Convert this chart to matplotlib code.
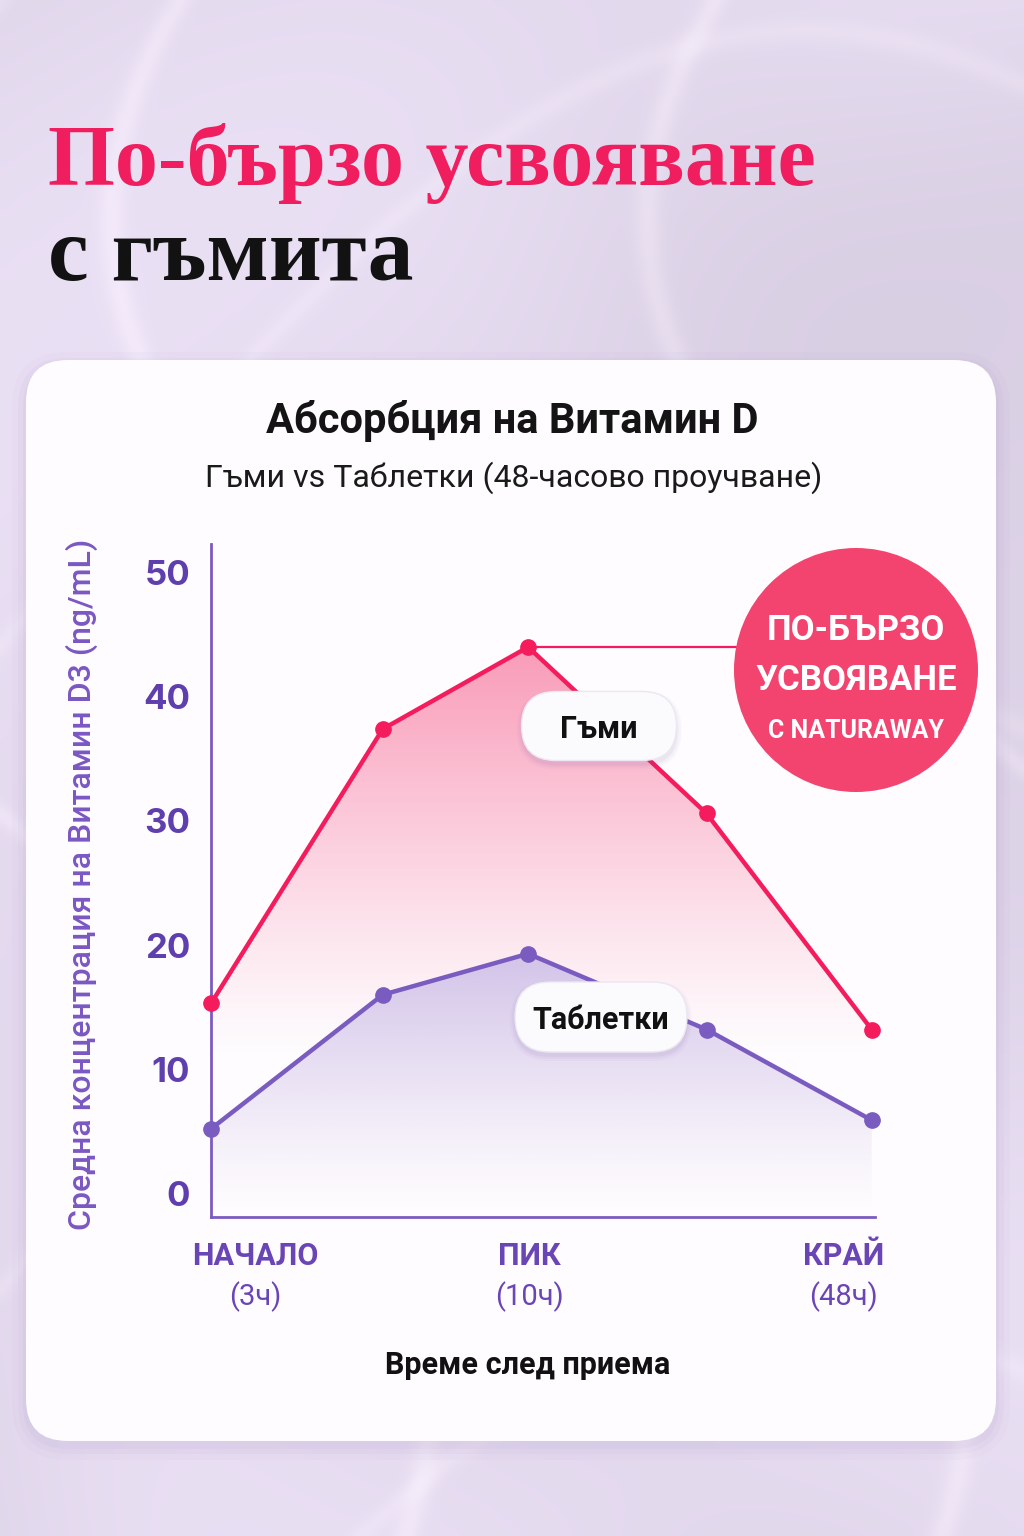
import numpy as np
import matplotlib
matplotlib.use('Agg')
import matplotlib.pyplot as plt
from matplotlib.patches import FancyBboxPatch, Circle

# --- data ---
time_pos = [0, 1.04, 1.92, 3.0, 4.0]
gummies = [15.3, 37.4, 44.0, 30.6, 13.2]
tablets = [5.2, 16.0, 19.3, 13.2, 5.9]
y_ticks = [0, 10, 20, 30, 40, 50]
x_label_pos = [0.27, 1.93, 3.83]
x_label_top = ['НАЧАЛО', 'ПИК', 'КРАЙ']
x_label_bottom = ['(3ч)', '(10ч)', '(48ч)']

PINK = '#f41c5c'
PURPLE = '#7a5bc0'
DARK_PURPLE = '#5f3fae'

plt.rcParams['font.family'] = ['Roboto', 'DejaVu Sans']

fig = plt.figure(figsize=(10.24, 15.36), dpi=100)

# background in pixel coordinates
bg = fig.add_axes([0, 0, 1, 1], zorder=0)
bg.set_xlim(0, 1024)
bg.set_ylim(1536, 0)
bg.axis('off')

# lavender marble texture
H, W = 384, 256
yy, xx = np.mgrid[0:H, 0:W] / 256.0
swirl = np.sin(2.6 * xx + 2.0 * np.sin(2.2 * yy) + 1.3 * np.sin(3.5 * xx * yy))
band = np.sin(4.5 * yy - 2.5 * xx + np.sin(5 * xx))
veins = np.exp(-np.sin(6 * xx + 2.5 * np.sin(2.7 * yy + 1.0)) ** 2 / 0.006)
veins2 = np.exp(-np.sin(5 * yy + 3 * np.sin(2 * xx)) ** 2 / 0.004)
base = np.array([0.885, 0.845, 0.925])
tex = base[None, None, :] + (0.02 * swirl + 0.012 * band)[..., None] \
    + (0.035 * veins + 0.022 * veins2)[..., None] * np.array([1.0, 1.1, 0.7])
tex = np.clip(tex, 0, 1)
bg.imshow(tex, extent=(0, 1024, 1536, 0), origin='upper', aspect='auto',
          interpolation='bicubic', zorder=0)

# headline
bg.text(48, 185, 'По-бързо усвояване', family='Liberation Serif',
        weight='bold', size=62, color='#f01e5e', va='baseline', zorder=2)
bg.text(48, 280, 'с гъмита', family='Liberation Serif',
        weight='bold', size=66, color='#121212', va='baseline', zorder=2)

# white card with soft shadow
for k, a in [(14, 0.03), (8, 0.04), (3, 0.05)]:
    bg.add_patch(FancyBboxPatch((26 - k, 362 - k + 4), 970 + 2 * k, 1080 + 2 * k,
                                boxstyle=f'round,pad=0,rounding_size={42 + k}',
                                fc='#8a70b0', ec='none', alpha=a, zorder=1))
bg.add_patch(FancyBboxPatch((26, 360), 970, 1081,
                            boxstyle='round,pad=0,rounding_size=42',
                            fc='#fefcfe', ec='none', zorder=2))

# card titles
bg.text(512, 421, 'Абсорбция на Витамин D', size=30, weight='bold',
        color='#141414', ha='center', va='center', zorder=3)
bg.text(514, 478, 'Гъми vs Таблетки (48-часово проучване)', size=23,
        color='#1a1a1a', ha='center', va='center', zorder=3)
bg.text(528, 1365, 'Време след приема', size=22, weight='bold',
        color='#111111', ha='center', va='center', zorder=3)
bg.text(82, 884, 'Средна концентрация на Витамин D3 (ng/mL)', size=23,
        weight='medium', color='#7b57c2', rotation=90, ha='center',
        va='center', zorder=3)

# chart axes
ax = fig.add_axes([211 / 1024, 1 - 1217 / 1536, 664 / 1024, 673 / 1536], zorder=2)
ax.patch.set_alpha(0)
YMIN, YMAX = -1.9, 52.3
XMAX = 4.02


def gradient_fill(x, y, rgb, a_top, y_top, y_zero, zorder, white_base=False):
    if white_base:
        ax.fill_between(x, y, YMIN, color='#fefcfe', lw=0, zorder=zorder - 0.1)
    poly = ax.fill_between(x, y, YMIN, color='none', lw=0)
    n = 256
    ys = np.linspace(YMIN, YMAX, n)
    alpha = np.clip((ys - y_zero) / (y_top - y_zero), 0, 1) ** 1.2 * a_top
    img = np.zeros((n, 2, 4))
    img[..., :3] = rgb
    img[..., 3] = alpha[:, None]
    im = ax.imshow(img, extent=(x[0], x[-1], YMIN, YMAX), origin='lower',
                   aspect='auto', zorder=zorder, interpolation='bilinear')
    im.set_clip_path(poly.get_paths()[0], transform=ax.transData)


gradient_fill(time_pos, gummies, (0.97, 0.42, 0.59), 0.72, 46, 11, 1)
gradient_fill(time_pos, tablets, (0.70, 0.60, 0.85), 0.6, 20, -1.5, 2,
              white_base=True)

peak = int(np.argmax(gummies))
ax.plot([time_pos[peak], time_pos[-1]], [gummies[peak], gummies[peak]],
        color=PINK, lw=1.6, clip_on=False, zorder=3)
ax.plot(time_pos, gummies, color=PINK, lw=3.2, marker='o', ms=11,
        clip_on=False, zorder=5)
ax.plot(time_pos, tablets, color=PURPLE, lw=3.2, marker='o', ms=11,
        clip_on=False, zorder=4)

ax.set_xlim(0, XMAX)
ax.set_ylim(YMIN, YMAX)
for s in ['top', 'right']:
    ax.spines[s].set_visible(False)
for s in ['left', 'bottom']:
    ax.spines[s].set_color(PURPLE)
    ax.spines[s].set_linewidth(2)
ax.set_xticks([])
ax.set_yticks(y_ticks)
ax.set_yticklabels([str(v) for v in y_ticks], family=['Inter', 'DejaVu Sans'],
                   weight='bold', size=25, color=DARK_PURPLE)
ax.tick_params(axis='y', length=0, pad=15)

xt = ax.get_xaxis_transform()
for p, top, bot in zip(x_label_pos, x_label_top, x_label_bottom):
    ax.text(p, -0.058, top, transform=xt, ha='center', va='center',
            size=22, weight='bold', color='#6a45b5')
    ax.text(p, -0.119, bot, transform=xt, ha='center', va='center',
            size=21, color='#6a45b5')

# overlay: badge and series pills
ov = fig.add_axes([0, 0, 1, 1], zorder=6)
ov.set_xlim(0, 1024)
ov.set_ylim(1536, 0)
ov.axis('off')
ov.patch.set_alpha(0)

ov.add_patch(Circle((856, 670), 122, fc='#f2446f', ec='none'))
ov.text(856, 631, 'ПО-БЪРЗО', size=25, weight='bold', color='white',
        ha='center', va='center')
ov.text(856, 680, 'УСВОЯВАНЕ', size=25, weight='bold', color='white',
        ha='center', va='center')
ov.text(856, 731, 'С NATURAWAY', size=18, weight='bold', color='white',
        ha='center', va='center')


def pill(cx, cy, w, h, label):
    for k, a in [(10, 0.03), (6, 0.04), (2, 0.06)]:
        ov.add_patch(FancyBboxPatch((cx - w / 2 - k / 2, cy - h / 2 + 4 - k / 2),
                                    w + k, h + k,
                                    boxstyle=f'round,pad=0,rounding_size={(h + k) / 2}',
                                    fc='#6a4aa0', ec='none', alpha=a))
    ov.add_patch(FancyBboxPatch((cx - w / 2, cy - h / 2), w, h,
                                boxstyle=f'round,pad=0,rounding_size={h / 2}',
                                fc='#fbfafc', ec='#ece8f1', lw=1))
    ov.text(cx, cy, label, size=22, weight='bold', color='#111111',
            ha='center', va='center_baseline')


pill(599, 726, 155, 69, 'Гъми')
pill(601, 1017, 172, 70, 'Таблетки')

fig.savefig('out.png', dpi=100)
